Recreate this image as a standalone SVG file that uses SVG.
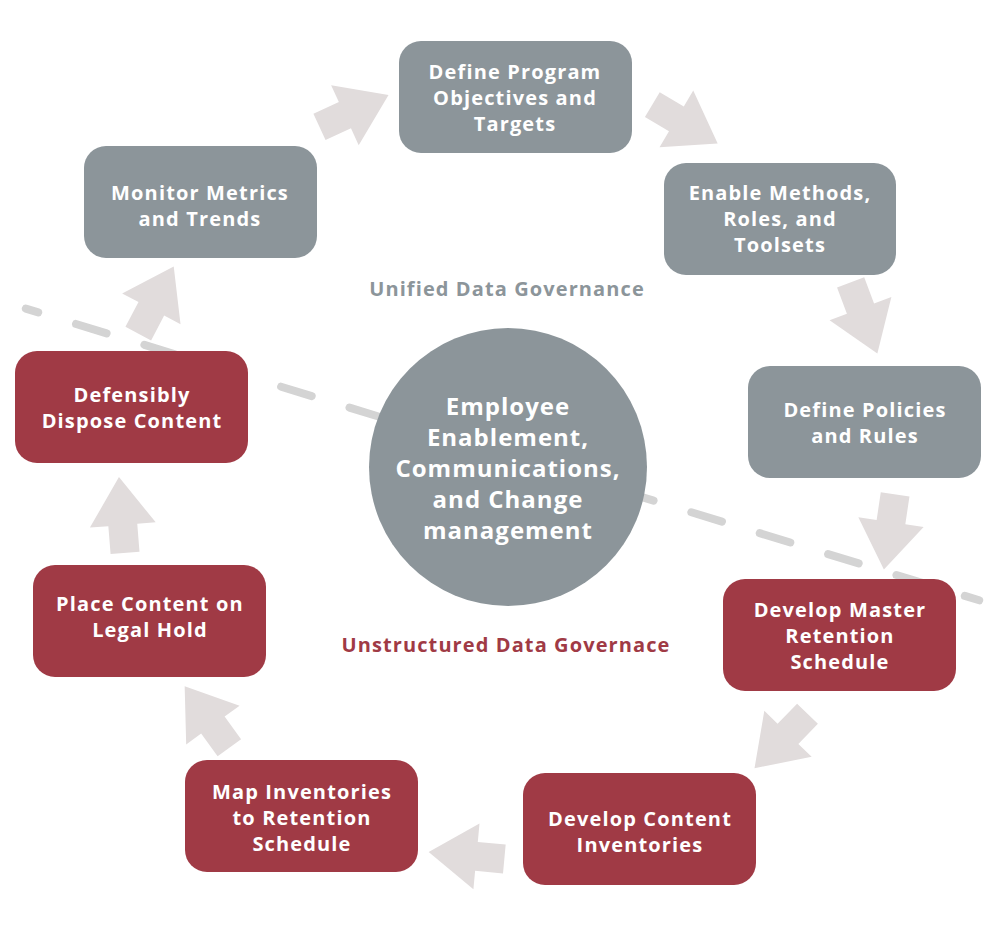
<svg xmlns="http://www.w3.org/2000/svg" width="1000" height="936" viewBox="0 0 1000 936">
<defs>
<style>
.g{fill:#8c959a}
.r{fill:#a03a45}
.t{font-family:"Open Sans","Liberation Sans",sans-serif;font-weight:700;font-size:20px;letter-spacing:1.15px;fill:#ffffff;text-anchor:middle}
.c{font-family:"Open Sans","Liberation Sans",sans-serif;font-weight:700;font-size:24px;letter-spacing:1px;fill:#ffffff;text-anchor:middle}
.lbl{font-family:"Open Sans","Liberation Sans",sans-serif;font-weight:700;font-size:20px;letter-spacing:1.1px;text-anchor:middle}
.ar{fill:#e1dcdc}
</style>
<polygon id="arr" points="-38,-14.5 -10,-14.5 -10,-33 38,0 -10,33 -10,14.5 -38,14.5"/>
</defs>
<rect width="1000" height="936" fill="#ffffff"/>
<g id="divider">
<path d="M25.8,308.6 L979.2,600.3" fill="none" stroke="#d4d4d4" stroke-width="8" stroke-linecap="round" stroke-dasharray="32 39.5" stroke-dashoffset="19"/>
</g>
<g id="connectors" class="ar">
<use href="#arr" transform="translate(354,111) rotate(-24.7)"/>
<use href="#arr" transform="translate(685,124) rotate(30.7)"/>
<use href="#arr" transform="translate(864,318) rotate(69.4)"/>
<use href="#arr" transform="translate(889.5,532) rotate(98.5)"/>
<use href="#arr" transform="translate(781,741) rotate(134.2)"/>
<use href="#arr" transform="translate(466.5,855.5) rotate(185.3)"/>
<use href="#arr" transform="translate(207,717) rotate(234)"/>
<use href="#arr" transform="translate(122,515) rotate(-94.6)"/>
<use href="#arr" transform="translate(156,300) rotate(-62.2)"/>
</g>
<g id="center">
<circle class="g" cx="508" cy="467" r="139"/>
<text class="c" x="508" y="415">Employee</text>
<text class="c" x="508" y="446">Enablement,</text>
<text class="c" x="508" y="477">Communications,</text>
<text class="c" x="508" y="508">and Change</text>
<text class="c" x="508" y="539">management</text>
</g>
<g id="label-unified"><text class="lbl" x="507" y="296" fill="#8c959a">Unified Data Governance</text></g>
<g id="label-unstructured"><text class="lbl" x="506" y="652" fill="#a03a45">Unstructured Data Governace</text></g>
<g id="n1"><rect class="g" x="399" y="41" width="233" height="112" rx="22"/>
<text class="t" x="515" y="79">Define Program</text><text class="t" x="515" y="105">Objectives and</text><text class="t" x="515" y="131">Targets</text></g>
<g id="n2"><rect class="g" x="664" y="163" width="232" height="112" rx="22"/>
<text class="t" x="780" y="200">Enable Methods,</text><text class="t" x="780" y="226">Roles, and</text><text class="t" x="780" y="252">Toolsets</text></g>
<g id="n3"><rect class="g" x="748" y="366" width="233" height="112" rx="22"/>
<text class="t" x="865" y="417">Define Policies</text><text class="t" x="865" y="443">and Rules</text></g>
<g id="n4"><rect class="r" x="723" y="579" width="233" height="112" rx="22"/>
<text class="t" x="840" y="617">Develop Master</text><text class="t" x="840" y="643">Retention</text><text class="t" x="840" y="669">Schedule</text></g>
<g id="n5"><rect class="r" x="523" y="773" width="233" height="112" rx="22"/>
<text class="t" x="640" y="826">Develop Content</text><text class="t" x="640" y="852">Inventories</text></g>
<g id="n6"><rect class="r" x="185" y="760" width="233" height="112" rx="22"/>
<text class="t" x="302" y="799">Map Inventories</text><text class="t" x="302" y="825">to Retention</text><text class="t" x="302" y="851">Schedule</text></g>
<g id="n7"><rect class="r" x="33" y="565" width="233" height="112" rx="22"/>
<text class="t" x="150" y="611">Place Content on</text><text class="t" x="150" y="637">Legal Hold</text></g>
<g id="n8"><rect class="r" x="15" y="351" width="233" height="112" rx="22"/>
<text class="t" x="132" y="402">Defensibly</text><text class="t" x="132" y="428">Dispose Content</text></g>
<g id="n9"><rect class="g" x="84" y="146" width="233" height="112" rx="22"/>
<text class="t" x="200" y="200">Monitor Metrics</text><text class="t" x="200" y="226">and Trends</text></g>
</svg>
